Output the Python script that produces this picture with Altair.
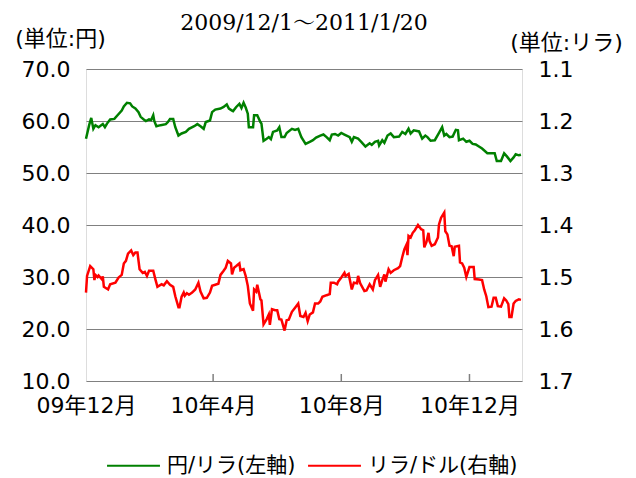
import altair as alt
import pandas as pd

# 円/リラ (left axis): days since 2009/12/1, value
jpy_days = [0, 3, 5, 7, 9, 12, 16, 18, 20, 23, 27, 30, 34, 36, 39, 42, 44, 47, 50, 52,
            55, 57, 60, 62, 64, 65, 67, 71, 76, 78, 80, 83, 85, 88, 91, 95, 98, 103, 106, 109,
            112, 114, 118, 120, 123, 128, 131, 134, 136, 139, 140, 143, 146, 148, 150, 152, 154, 155, 159, 160,
            163, 166, 167, 169, 172, 174, 176, 178, 182, 184, 186, 189, 191, 196, 199, 202, 205, 209, 213, 216,
            219, 223, 226, 229, 232, 234, 237, 240, 243, 246, 251, 253, 255, 259, 262, 266, 270, 272, 275, 278,
            279, 282, 284, 287, 290, 293, 298, 301, 304, 307, 309, 312, 317, 320, 323, 325, 328, 332, 336, 339,
            341, 343, 346, 349, 352, 354, 355, 359, 362, 365, 368, 371, 374, 377, 382, 389, 391, 395, 398, 401,
            404, 407, 409, 412, 414]
jpy_vals = [56.6, 59.2, 60.6, 58.5, 59.2, 58.8, 59.4, 58.8, 59.5, 60.3, 60.4, 61.1, 62.0, 62.8, 63.5, 63.4, 62.8, 62.4, 61.7, 60.8,
            60.3, 60.0, 60.3, 60.2, 61.1, 60.0, 59.0, 59.2, 59.4, 59.8, 60.4, 60.4, 58.8, 57.2, 57.6, 57.9, 58.5, 59.0, 59.4, 59.0,
            58.5, 59.8, 60.1, 61.7, 62.2, 62.4, 62.7, 63.2, 62.4, 62.0, 61.9, 62.7, 63.3, 62.5, 63.5, 62.6, 61.4, 58.8, 58.8, 61.1,
            61.1, 59.8, 59.5, 56.2, 56.6, 56.9, 56.5, 57.9, 58.2, 58.8, 56.9, 56.9, 57.7, 58.5, 58.3, 58.5, 56.9, 55.6, 56.0, 56.3,
            56.8, 57.2, 57.4, 56.9, 56.3, 57.4, 57.5, 57.2, 57.7, 57.4, 56.9, 56.0, 56.9, 56.6, 56.0, 55.1, 55.7, 55.4, 56.0, 56.2,
            55.3, 56.3, 55.8, 57.2, 57.6, 56.9, 57.0, 57.9, 57.5, 58.5, 57.6, 58.2, 58.0, 56.6, 57.2, 56.9, 56.2, 56.3, 57.7, 58.8,
            57.2, 57.5, 56.9, 57.0, 58.3, 58.2, 56.3, 56.6, 56.0, 56.2, 55.6, 55.5, 55.1, 54.7, 53.8, 53.8, 52.3, 52.3, 53.8, 53.1,
            52.3, 53.0, 53.6, 53.4, 53.5]

# リラ/ドル (right axis, reversed): days since 2009/12/1, value
try_days = [0, 1, 4, 7, 8, 9, 11, 12, 15, 16, 17, 21, 23, 28, 31, 34, 36, 38, 40, 43,
            45, 47, 49, 51, 54, 56, 58, 60, 64, 66, 68, 72, 74, 77, 80, 83, 85, 88, 89, 91,
            93, 94, 96, 98, 101, 104, 107, 109, 112, 115, 118, 120, 126, 128, 131, 133, 135, 138, 139, 141,
            143, 146, 147, 150, 152, 154, 156, 159, 160, 162, 163, 166, 167, 169, 172, 174, 175, 177, 180, 182,
            184, 186, 189, 191, 193, 196, 199, 202, 204, 207, 209, 211, 213, 216, 218, 221, 223, 225, 229, 232,
            233, 236, 239, 240, 243, 246, 247, 250, 253, 255, 258, 259, 261, 265, 267, 270, 273, 275, 278, 280,
            282, 284, 285, 288, 290, 293, 297, 299, 301, 303, 305, 306, 307, 309, 311, 313, 316, 319, 321, 322,
            324, 326, 327, 329, 332, 335, 336, 338, 341, 342, 344, 346, 348, 350, 351, 355, 356, 358, 360, 362,
            365, 369, 370, 374, 377, 379, 381, 383, 386, 388, 390, 392, 395, 398, 400, 402, 403, 405, 407, 409,
            412, 414]
try_vals = [1.530, 1.498, 1.479, 1.485, 1.506, 1.496, 1.500, 1.497, 1.504, 1.499, 1.519, 1.524, 1.514, 1.511, 1.501, 1.496, 1.474, 1.469, 1.455, 1.449,
            1.458, 1.453, 1.453, 1.485, 1.492, 1.490, 1.498, 1.488, 1.488, 1.504, 1.519, 1.514, 1.516, 1.508, 1.515, 1.519, 1.537, 1.558, 1.558, 1.538,
            1.530, 1.536, 1.531, 1.534, 1.530, 1.524, 1.511, 1.528, 1.541, 1.540, 1.530, 1.517, 1.513, 1.496, 1.488, 1.482, 1.469, 1.474, 1.495, 1.482,
            1.479, 1.474, 1.487, 1.485, 1.498, 1.517, 1.551, 1.565, 1.524, 1.528, 1.515, 1.543, 1.545, 1.591, 1.581, 1.572, 1.592, 1.562, 1.564, 1.564,
            1.581, 1.582, 1.603, 1.583, 1.582, 1.567, 1.559, 1.551, 1.575, 1.577, 1.569, 1.585, 1.572, 1.568, 1.551, 1.551, 1.547, 1.538, 1.535, 1.533,
            1.511, 1.511, 1.514, 1.509, 1.501, 1.492, 1.498, 1.494, 1.524, 1.511, 1.512, 1.498, 1.512, 1.527, 1.526, 1.514, 1.524, 1.506, 1.496, 1.519,
            1.506, 1.495, 1.509, 1.485, 1.492, 1.487, 1.483, 1.479, 1.462, 1.447, 1.438, 1.458, 1.421, 1.424, 1.415, 1.410, 1.400, 1.408, 1.410, 1.443,
            1.433, 1.415, 1.431, 1.440, 1.437, 1.424, 1.399, 1.386, 1.376, 1.412, 1.418, 1.440, 1.441, 1.460, 1.442, 1.440, 1.472, 1.474, 1.482, 1.500,
            1.481, 1.481, 1.504, 1.505, 1.506, 1.524, 1.537, 1.558, 1.557, 1.540, 1.540, 1.556, 1.557, 1.541, 1.545, 1.552, 1.577, 1.577, 1.551, 1.546,
            1.543, 1.544]

left_ticks = [10, 20, 30, 40, 50, 60, 70]
right_ticks = [1.1, 1.2, 1.3, 1.4, 1.5, 1.6, 1.7]
tick_dates = ["2009-12-01", "2010-04-01", "2010-08-01", "2010-12-01"]
series_names = ["円/リラ(左軸)", "リラ/ドル(右軸)"]
title_text = "2009/12/1～2011/1/20"

start = pd.Timestamp("2009-12-01")
def to_dates(days):
    return [(start + pd.Timedelta(days=d)).strftime("%Y-%m-%d") for d in days]

df_jpy = pd.DataFrame({"date": to_dates(jpy_days), "v": jpy_vals, "s": series_names[0]})
df_try = pd.DataFrame({"date": to_dates(try_days), "v": try_vals, "s": series_names[1]})
df_ticks = pd.DataFrame({"date": tick_dates[1:]})

FONT = "DejaVu Sans, Noto Sans CJK JP"
FS = 22

xscale = alt.Scale(type="utc", domain=[alt.DateTime(year=2009, month=12, date=1, utc=True),
                                       alt.DateTime(year=2011, month=1, date=20, utc=True)])
xaxis = alt.Axis(values=[alt.DateTime(year=int(d[:4]), month=int(d[5:7]), date=1, utc=True) for d in tick_dates],
                 labelExpr="utcFormat(datum.value, '%y年%-m月')", title=None, grid=False, ticks=False,
                 domain=False, labelFontSize=FS, labelFont=FONT, labelColor="black", labelPadding=14,
                 labelFlush=False)

color_scale = alt.Scale(domain=series_names, range=["#008000", "#ff0000"])
color_legend = alt.Legend(title=None, orient="none", direction="horizontal", legendX=20, legendY=369,
                          symbolType="stroke", symbolSize=2800, symbolStrokeWidth=2,
                          labelFontSize=21, labelFont=FONT, labelColor="black", labelLimit=400,
                          labelOffset=6, columnPadding=8)

green = alt.Chart(df_jpy).mark_line(strokeWidth=2.5, interpolate="linear").encode(
    x=alt.X("date:T", scale=xscale, axis=xaxis),
    y=alt.Y("v:Q", scale=alt.Scale(domain=[10, 70], nice=False, zero=False),
            axis=alt.Axis(values=left_ticks, format=".1f", title="(単位:円)", titleAngle=0, titleAlign="center",
                          titleBaseline="middle", titleX=-26, titleY=-31, titleFont=FONT, titleFontSize=FS,
                          titleFontWeight="normal", titleColor="black", labelFont=FONT, labelFontSize=FS,
                          labelColor="black", labelPadding=16, ticks=False, domain=False,
                          grid=True, gridColor="#808080", gridWidth=1)),
    color=alt.Color("s:N", scale=color_scale, legend=color_legend),
)

red = alt.Chart(df_try).mark_line(strokeWidth=2.5, interpolate="linear").encode(
    x=alt.X("date:T", scale=xscale),
    y=alt.Y("v:Q", scale=alt.Scale(domain=[1.1, 1.7], nice=False, zero=False, reverse=True),
            axis=alt.Axis(orient="right", values=right_ticks, format=".1f", title="(単位:リラ)", titleAngle=0,
                          titleAlign="center", titleBaseline="middle", titleX=44, titleY=-27, titleFont=FONT,
                          titleFontSize=FS, titleFontWeight="normal", titleColor="black", labelFont=FONT,
                          labelFontSize=FS, labelColor="black", labelPadding=16, ticks=False, domain=False,
                          grid=False)),
    color=alt.Color("s:N", scale=color_scale, legend=color_legend),
)

ticks = alt.Chart(df_ticks).mark_rule(color="#808080", strokeWidth=1.5).encode(
    x=alt.X("date:T", scale=xscale),
    y=alt.value(305), y2=alt.value(312),
)

chart = alt.layer(ticks, green, red).resolve_scale(y="independent").properties(
    width=436, height=312,
    title=alt.TitleParams(title_text, font="DejaVu Serif, Noto Serif CJK JP, Noto Sans CJK JP", fontSize=22,
                          fontWeight="normal", color="black", anchor="middle", offset=-8),
    autosize=alt.AutoSizeParams(type="none"),
    padding={"left": 78, "top": 61, "right": 104, "bottom": 96},
).configure_view(fill="#ffffcc", stroke="#8c8c8c", strokeWidth=2.5).configure(background="white")

chart.save("out.html", embed_options={"renderer": "svg", "actions": False})
